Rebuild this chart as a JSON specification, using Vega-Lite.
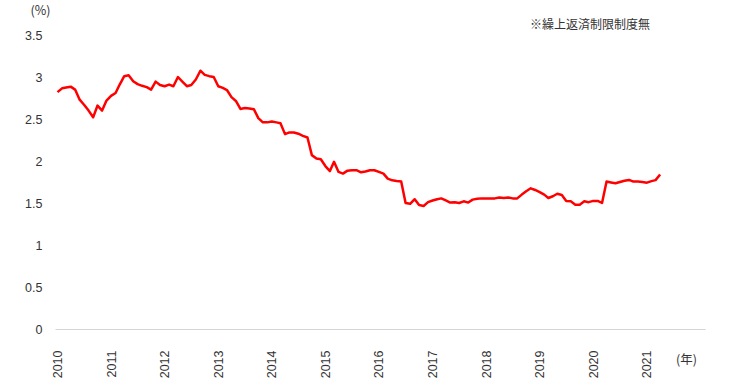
{
  "$schema": "https://vega.github.io/schema/vega-lite/v6.json",
  "width": 650,
  "height": 294,
  "autosize": {"type": "none"},
  "padding": {"left": 55, "top": 35, "right": 25, "bottom": 63},
  "background": "white",
  "config": {"view": {"stroke": null}},
  "title": {
    "text": "※繰上返済制限制度無",
    "anchor": "start",
    "frame": "group",
    "dx": 475,
    "dy": 46,
    "offset": 6,
    "baseline": "bottom",
    "font": "Noto Sans CJK JP",
    "fontSize": 12,
    "fontWeight": "normal",
    "color": "#333333"
  },
  "data": {
    "values": [
      {"date": "2010-01-01", "rate": 2.82},
      {"date": "2010-02-01", "rate": 2.865},
      {"date": "2010-03-01", "rate": 2.875},
      {"date": "2010-04-01", "rate": 2.885},
      {"date": "2010-05-01", "rate": 2.85},
      {"date": "2010-06-01", "rate": 2.73},
      {"date": "2010-07-01", "rate": 2.67},
      {"date": "2010-08-01", "rate": 2.6},
      {"date": "2010-09-01", "rate": 2.52},
      {"date": "2010-10-01", "rate": 2.66},
      {"date": "2010-11-01", "rate": 2.6},
      {"date": "2010-12-01", "rate": 2.72},
      {"date": "2011-01-01", "rate": 2.775},
      {"date": "2011-02-01", "rate": 2.81},
      {"date": "2011-03-01", "rate": 2.91},
      {"date": "2011-04-01", "rate": 3.01},
      {"date": "2011-05-01", "rate": 3.02},
      {"date": "2011-06-01", "rate": 2.95},
      {"date": "2011-07-01", "rate": 2.915},
      {"date": "2011-08-01", "rate": 2.895},
      {"date": "2011-09-01", "rate": 2.88},
      {"date": "2011-10-01", "rate": 2.85},
      {"date": "2011-11-01", "rate": 2.945},
      {"date": "2011-12-01", "rate": 2.905},
      {"date": "2012-01-01", "rate": 2.89},
      {"date": "2012-02-01", "rate": 2.91},
      {"date": "2012-03-01", "rate": 2.89},
      {"date": "2012-04-01", "rate": 3.0},
      {"date": "2012-05-01", "rate": 2.945},
      {"date": "2012-06-01", "rate": 2.89},
      {"date": "2012-07-01", "rate": 2.905},
      {"date": "2012-08-01", "rate": 2.97},
      {"date": "2012-09-01", "rate": 3.075},
      {"date": "2012-10-01", "rate": 3.025},
      {"date": "2012-11-01", "rate": 3.01},
      {"date": "2012-12-01", "rate": 3.0},
      {"date": "2013-01-01", "rate": 2.89},
      {"date": "2013-02-01", "rate": 2.87},
      {"date": "2013-03-01", "rate": 2.845},
      {"date": "2013-04-01", "rate": 2.76},
      {"date": "2013-05-01", "rate": 2.715},
      {"date": "2013-06-01", "rate": 2.62},
      {"date": "2013-07-01", "rate": 2.63},
      {"date": "2013-08-01", "rate": 2.625},
      {"date": "2013-09-01", "rate": 2.615},
      {"date": "2013-10-01", "rate": 2.51},
      {"date": "2013-11-01", "rate": 2.46},
      {"date": "2013-12-01", "rate": 2.46},
      {"date": "2014-01-01", "rate": 2.47},
      {"date": "2014-02-01", "rate": 2.46},
      {"date": "2014-03-01", "rate": 2.45},
      {"date": "2014-04-01", "rate": 2.32},
      {"date": "2014-05-01", "rate": 2.34},
      {"date": "2014-06-01", "rate": 2.34},
      {"date": "2014-07-01", "rate": 2.325},
      {"date": "2014-08-01", "rate": 2.3},
      {"date": "2014-09-01", "rate": 2.28},
      {"date": "2014-10-01", "rate": 2.07},
      {"date": "2014-11-01", "rate": 2.03},
      {"date": "2014-12-01", "rate": 2.02},
      {"date": "2015-01-01", "rate": 1.94},
      {"date": "2015-02-01", "rate": 1.88},
      {"date": "2015-03-01", "rate": 1.99},
      {"date": "2015-04-01", "rate": 1.87},
      {"date": "2015-05-01", "rate": 1.85},
      {"date": "2015-06-01", "rate": 1.885},
      {"date": "2015-07-01", "rate": 1.89},
      {"date": "2015-08-01", "rate": 1.89},
      {"date": "2015-09-01", "rate": 1.865},
      {"date": "2015-10-01", "rate": 1.875},
      {"date": "2015-11-01", "rate": 1.89},
      {"date": "2015-12-01", "rate": 1.89},
      {"date": "2016-01-01", "rate": 1.87},
      {"date": "2016-02-01", "rate": 1.85},
      {"date": "2016-03-01", "rate": 1.79},
      {"date": "2016-04-01", "rate": 1.77},
      {"date": "2016-05-01", "rate": 1.762},
      {"date": "2016-06-01", "rate": 1.755},
      {"date": "2016-07-01", "rate": 1.5},
      {"date": "2016-08-01", "rate": 1.49},
      {"date": "2016-09-01", "rate": 1.545},
      {"date": "2016-10-01", "rate": 1.475},
      {"date": "2016-11-01", "rate": 1.465},
      {"date": "2016-12-01", "rate": 1.51},
      {"date": "2017-01-01", "rate": 1.53},
      {"date": "2017-02-01", "rate": 1.545},
      {"date": "2017-03-01", "rate": 1.555},
      {"date": "2017-04-01", "rate": 1.53},
      {"date": "2017-05-01", "rate": 1.505},
      {"date": "2017-06-01", "rate": 1.51},
      {"date": "2017-07-01", "rate": 1.5},
      {"date": "2017-08-01", "rate": 1.52},
      {"date": "2017-09-01", "rate": 1.505},
      {"date": "2017-10-01", "rate": 1.54},
      {"date": "2017-11-01", "rate": 1.55},
      {"date": "2017-12-01", "rate": 1.555},
      {"date": "2018-01-01", "rate": 1.555},
      {"date": "2018-02-01", "rate": 1.555},
      {"date": "2018-03-01", "rate": 1.555},
      {"date": "2018-04-01", "rate": 1.565},
      {"date": "2018-05-01", "rate": 1.56},
      {"date": "2018-06-01", "rate": 1.565},
      {"date": "2018-07-01", "rate": 1.555},
      {"date": "2018-08-01", "rate": 1.555},
      {"date": "2018-09-01", "rate": 1.6},
      {"date": "2018-10-01", "rate": 1.64},
      {"date": "2018-11-01", "rate": 1.675},
      {"date": "2018-12-01", "rate": 1.655},
      {"date": "2019-01-01", "rate": 1.63},
      {"date": "2019-02-01", "rate": 1.6},
      {"date": "2019-03-01", "rate": 1.56},
      {"date": "2019-04-01", "rate": 1.58},
      {"date": "2019-05-01", "rate": 1.61},
      {"date": "2019-06-01", "rate": 1.595},
      {"date": "2019-07-01", "rate": 1.525},
      {"date": "2019-08-01", "rate": 1.52},
      {"date": "2019-09-01", "rate": 1.48},
      {"date": "2019-10-01", "rate": 1.48},
      {"date": "2019-11-01", "rate": 1.52},
      {"date": "2019-12-01", "rate": 1.51},
      {"date": "2020-01-01", "rate": 1.525},
      {"date": "2020-02-01", "rate": 1.525},
      {"date": "2020-03-01", "rate": 1.5},
      {"date": "2020-04-01", "rate": 1.755},
      {"date": "2020-05-01", "rate": 1.745},
      {"date": "2020-06-01", "rate": 1.735},
      {"date": "2020-07-01", "rate": 1.75},
      {"date": "2020-08-01", "rate": 1.765},
      {"date": "2020-09-01", "rate": 1.775},
      {"date": "2020-10-01", "rate": 1.755},
      {"date": "2020-11-01", "rate": 1.755},
      {"date": "2020-12-01", "rate": 1.75},
      {"date": "2021-01-01", "rate": 1.742},
      {"date": "2021-02-01", "rate": 1.76},
      {"date": "2021-03-01", "rate": 1.772},
      {"date": "2021-04-01", "rate": 1.84}
    ]
  },
  "mark": {"type": "line", "color": "#ff0000", "strokeWidth": 2.5, "strokeJoin": "round", "clip": false},
  "encoding": {
    "x": {
      "field": "date",
      "type": "temporal",
      "scale": {
        "type": "utc",
        "domain": [
          {"year": 2009, "month": 12, "date": 15, "utc": true},
          {"year": 2022, "month": 2, "date": 1, "utc": true}
        ]
      },
      "axis": {
        "values": [
          {"year": 2010, "month": 1, "date": 1, "utc": true},
          {"year": 2011, "month": 1, "date": 1, "utc": true},
          {"year": 2012, "month": 1, "date": 1, "utc": true},
          {"year": 2013, "month": 1, "date": 1, "utc": true},
          {"year": 2014, "month": 1, "date": 1, "utc": true},
          {"year": 2015, "month": 1, "date": 1, "utc": true},
          {"year": 2016, "month": 1, "date": 1, "utc": true},
          {"year": 2017, "month": 1, "date": 1, "utc": true},
          {"year": 2018, "month": 1, "date": 1, "utc": true},
          {"year": 2019, "month": 1, "date": 1, "utc": true},
          {"year": 2020, "month": 1, "date": 1, "utc": true},
          {"year": 2021, "month": 1, "date": 1, "utc": true}
        ],
        "format": "%Y",
        "labelAngle": -90,
        "labelAlign": "right",
        "labelBaseline": "middle",
        "labelPadding": 21,
        "labelFont": "Liberation Sans",
        "labelFontSize": 12.5,
        "labelColor": "#333333",
        "labelOverlap": false,
        "labelFlush": false,
        "ticks": false,
        "grid": false,
        "domain": true,
        "domainColor": "#d4d4d4",
        "domainWidth": 1,
        "title": "(年)",
        "titleFont": "Noto Sans CJK JP",
        "titleFontSize": 12.5,
        "titleFontWeight": "normal",
        "titleColor": "#333333",
        "titleAngle": 0,
        "titleAlign": "center",
        "titleBaseline": "middle",
        "titleX": 631,
        "titleY": 30
      }
    },
    "y": {
      "field": "rate",
      "type": "quantitative",
      "scale": {"domain": [0, 3.5], "nice": false, "zero": true},
      "axis": {
        "values": [0, 0.5, 1, 1.5, 2, 2.5, 3, 3.5],
        "format": "~g",
        "labelFont": "Liberation Sans",
        "labelFontSize": 12.5,
        "labelColor": "#333333",
        "labelPadding": 13,
        "ticks": false,
        "grid": false,
        "domain": false,
        "title": "(%)",
        "titleFont": "Noto Sans CJK JP",
        "titleFontSize": 12.5,
        "titleFontWeight": "normal",
        "titleColor": "#333333",
        "titleAngle": 0,
        "titleAlign": "center",
        "titleBaseline": "middle",
        "titleX": -15,
        "titleY": -25
      }
    }
  }
}
